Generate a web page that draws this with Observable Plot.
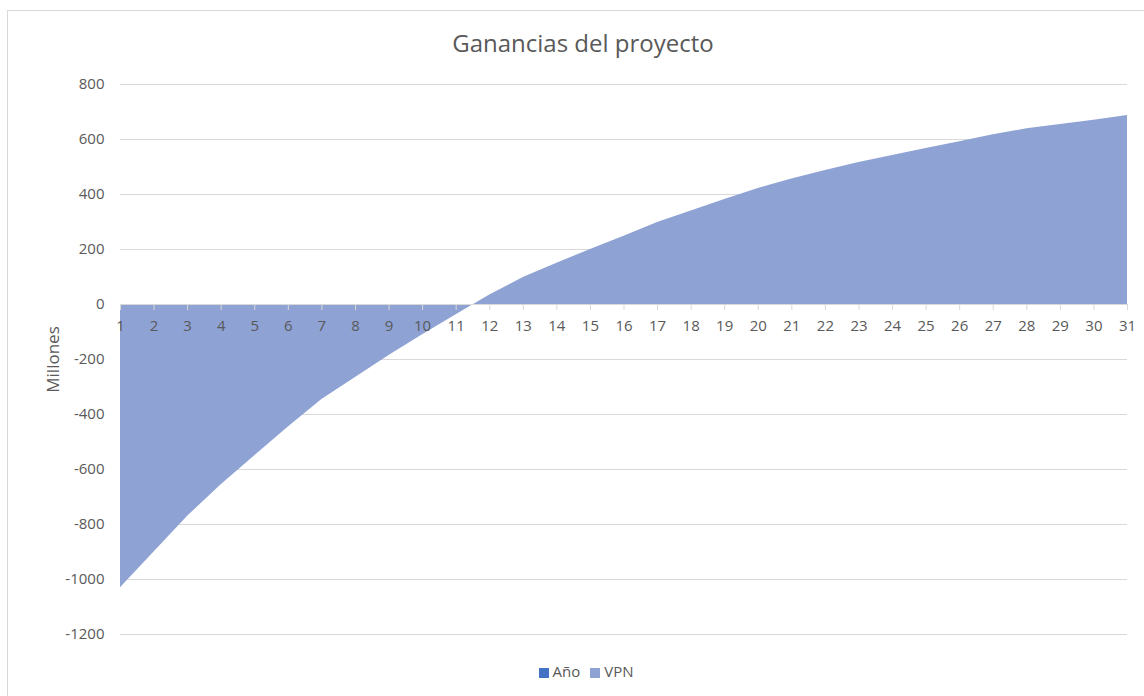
<!DOCTYPE html>
<html>
<head>
<meta charset="utf-8">
<script src="https://cdn.jsdelivr.net/npm/d3@7"></script>
<script src="https://cdn.jsdelivr.net/npm/@observablehq/plot@0.6"></script>
<style>
  html, body { margin: 0; padding: 0; background: #fff; }
  body { width: 1144px; height: 696px; overflow: hidden; position: relative; font-family: "Open Sans", sans-serif; }
  #frame { position: absolute; left: 7px; top: 10px; width: 1200px; height: 800px; border-left: 1px solid #d9d9d9; border-top: 1px solid #d9d9d9; box-sizing: border-box; pointer-events: none; }
  #title { height: 64px; box-sizing: border-box; padding-top: 28px; padding-left: 22px; text-align: center; font-size: 24px; line-height: 30px; color: #595959; }
  #chart svg { display: block; }
  #legend { text-align: center; padding-top: 17px; padding-left: 28px; font-size: 15px; line-height: 20px; color: #595959; }
  .sw { display: inline-block; width: 10px; height: 10px; margin-right: 4px; vertical-align: -1px; }
  .item { margin: 0 5px; }
</style>
</head>
<body>
<div id="frame"></div>
<div id="title">Ganancias del proyecto</div>
<div id="chart"></div>
<div id="legend"></div>
<script>
const years = [1,2,3,4,5,6,7,8,9,10,11,12,13,14,15,16,17,18,19,20,21,22,23,24,25,26,27,28,29,30,31];
const vpn = [-1030,-900,-770,-655,-550,-445,-345,-265,-185,-110,-37,35,98,150,200,248,298,340,382,422,456,487,516,542,567,592,617,639,655,670,687];
const yTicks = [800,600,400,200,0,-200,-400,-600,-800,-1000,-1200];
const seriesNames = ["Año", "VPN"];
const seriesColors = ["#4472C4", "#8EA2D4"];

const data = years.map((y, i) => ({year: y, vpn: vpn[i]}));

const chart = Plot.plot({
  width: 1144,
  height: 580,
  marginLeft: 120,
  marginRight: 17,
  marginTop: 20,
  marginBottom: 10,
  style: {fontFamily: "Open Sans, sans-serif", fontSize: "15px", color: "#595959", background: "transparent"},
  x: {domain: [1, 31], axis: null},
  y: {domain: [-1200, 800]},
  marks: [
    Plot.ruleY(yTicks, {y: d => d, stroke: "#d9d9d9", strokeWidth: 1}),
    Plot.areaY(data, {x: "year", y: "vpn", fill: seriesColors[1], fillOpacity: 1}),
    Plot.ruleY([0], {y: d => d, stroke: "#d9d9d9", strokeWidth: 1}),
    Plot.ruleX(years, {x: d => d, y1: 0, y2: 0, insetBottom: -6, stroke: "#d9d9d9", strokeWidth: 1}),
    Plot.text(years, {x: d => d, y: 0, dy: 22, text: d => String(d), fill: "#595959", fontSize: 15}),
    Plot.axisY({ticks: yTicks, tickSize: 0, tickPadding: 16, tickFormat: d => String(d), fontSize: 15, label: null}),
    Plot.axisY({ticks: [], tickSize: 0, fontSize: 17, label: "Millones", labelAnchor: "center", labelOffset: 74, labelArrow: "none"})
  ]
});
document.getElementById("chart").appendChild(chart);

const legend = document.getElementById("legend");
seriesNames.forEach((n, i) => {
  const s = document.createElement("span");
  s.className = "item";
  s.innerHTML = `<span class="sw" style="background:${seriesColors[i]}"></span>${n}`;
  legend.appendChild(s);
});
</script>
</body>
</html>
